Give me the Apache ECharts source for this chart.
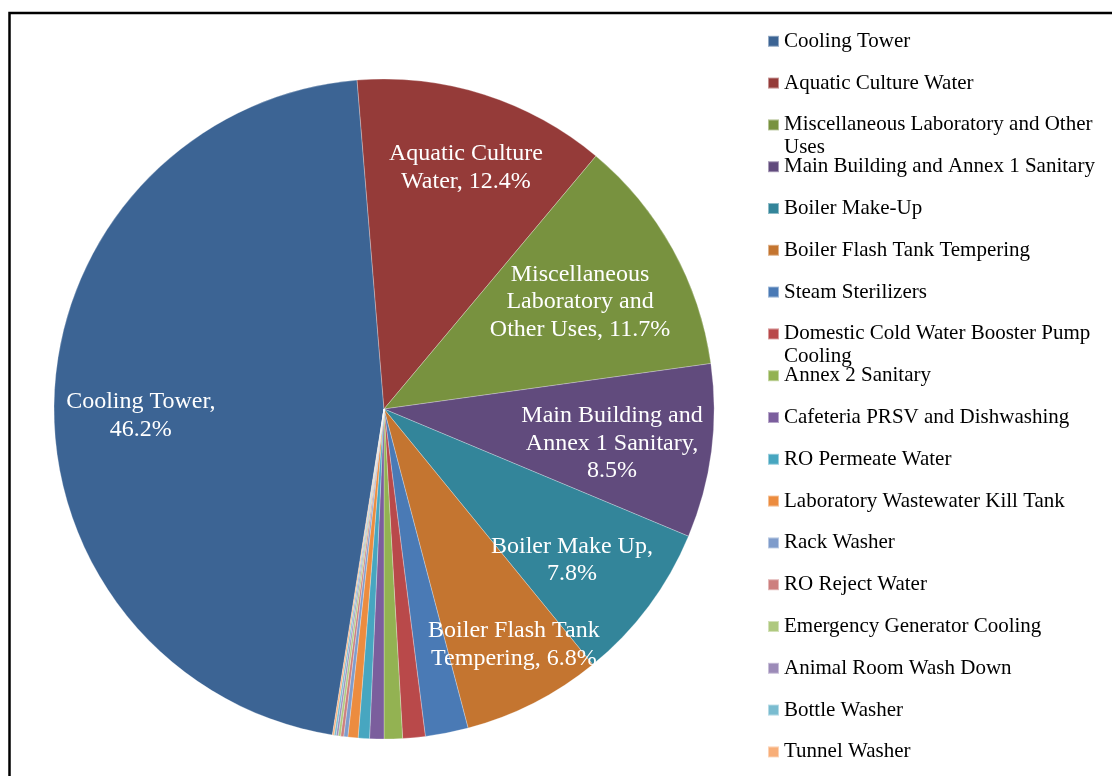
<!DOCTYPE html>
<html>
<head>
  <meta charset="utf-8">
  <title>Water use breakdown</title>
  <script src="https://cdn.jsdelivr.net/npm/echarts@6/dist/echarts.min.js"></script>
  <style>
    html, body { margin: 0; padding: 0; background: #fff; }
    #chart { width: 1112px; height: 776px; }
  </style>
</head>
<body>
  <div id="chart"></div>
  <script>
    // data (percent of total)
    const categories = [
      'Cooling Tower',
      'Aquatic Culture Water',
      'Miscellaneous Laboratory and Other Uses',
      'Main Building and Annex 1 Sanitary',
      'Boiler Make-Up',
      'Boiler Flash Tank Tempering',
      'Steam Sterilizers',
      'Domestic Cold Water Booster Pump Cooling',
      'Annex 2 Sanitary',
      'Cafeteria PRSV and Dishwashing',
      'RO Permeate Water',
      'Laboratory Wastewater Kill Tank',
      'Rack Washer',
      'RO Reject Water',
      'Emergency Generator Cooling',
      'Animal Room Wash Down',
      'Bottle Washer',
      'Tunnel Washer'
    ];
    const shares = [46.2, 12.4, 11.7, 8.5, 7.8, 6.8, 2.1, 1.1, 0.9, 0.7, 0.55, 0.5, 0.2, 0.15, 0.12, 0.1, 0.1, 0.08];
    const colors = [
      '#3c6494', '#953b39', '#78923f', '#614b7d', '#33859a', '#c47530',
      '#4a7ab5', '#b9494a', '#93b252', '#7b5e9d', '#47a6c0', '#ec8c3f',
      '#7f9ccb', '#cd7f7e', '#afc97f', '#9c8bb8', '#7abcd0', '#f8ae78'
    ];
    // slice labels (only the big slices carry one)
    const labelTexts = [
      'Cooling Tower,\n',
      'Aquatic Culture\nWater, ',
      'Miscellaneous\nLaboratory and\nOther Uses, ',
      'Main Building and\nAnnex 1 Sanitary,\n',
      'Boiler Make Up,\n',
      'Boiler Flash Tank\nTempering, '
    ];
    // legend entries that wrap onto a second line
    const legendTails = {
      'Miscellaneous Laboratory and Other Uses': 'Uses',
      'Domestic Cold Water Booster Pump Cooling': 'Cooling'
    };

    const pieCenter = [384, 409];
    const pieRadius = 330;
    // label placement: share of the radius, and a small turn (degrees) off the slice middle
    const labelDistance = [0.737, 0.777, 0.679, 0.698, 0.728, 0.812];
    const labelTurn = [-3.4, 1.0, 0, 0.8, 1.8, -2.0];

    const pieData = categories.map((name, i) => ({
      name: name,
      value: shares[i],
      itemStyle: { color: colors[i] },
      label: { show: i < labelTexts.length }
    }));

    const legendBase = {
      orient: 'vertical',
      left: 767,
      padding: 0,
      itemWidth: 11,
      itemHeight: 11,
      icon: 'rect',
      selectedMode: false,
      formatter: name => {
        const tail = legendTails[name];
        if (!tail) return name;
        return name.slice(0, name.length - tail.length - 1) + '\n{u|' + tail + '}';
      },
      textStyle: {
        fontFamily: 'Liberation Serif',
        fontSize: 21,
        color: '#000',
        lineHeight: 23,
        rich: {
          u: {
            fontFamily: 'Liberation Serif',
            fontSize: 21,
            color: '#000',
            height: 23,
            lineHeight: 0,
            verticalAlign: 'top'
          }
        }
      }
    };
    // one legend block per entry so wrapped entries keep Excel's even spacing
    const legends = categories.map((name, i) => Object.assign({}, legendBase, {
      top: 29.8 + i * 41.8,
      data: [name]
    }));

    const chart = echarts.init(document.getElementById('chart'));
    chart.setOption({
      animation: false,
      graphic: [{
        type: 'rect',
        shape: { x: 9.5, y: 13, width: 1300, height: 900 },
        style: { fill: 'none', stroke: '#000', lineWidth: 2.5 },
        silent: true
      }],
      legend: legends,
      series: [
        {
          name: 'Water Use',
          type: 'pie',
          center: pieCenter,
          radius: pieRadius,
          startAngle: 261,
          clockwise: true,
          avoidLabelOverlap: false,
          silent: true,
          data: pieData,
          itemStyle: { borderColor: 'rgba(255,255,255,0.45)', borderWidth: 0.6 },
          label: {
            position: 'inside',
            color: '#fff',
            fontFamily: 'Liberation Serif',
            fontSize: 24,
            lineHeight: 27.6,
            align: 'center',
            formatter: p => labelTexts[p.dataIndex] + p.value.toFixed(1) + '%'
          },
          labelLine: { show: false },
          labelLayout: p => {
            const f = labelDistance[p.dataIndex];
            if (f == null) return {};
            const r = p.labelRect;
            const cx = r.x + r.width / 2 - pieCenter[0];
            const cy = r.y + r.height / 2 - pieCenter[1];
            const a = Math.atan2(cx, -cy) + labelTurn[p.dataIndex] * Math.PI / 180;
            const d = f * pieRadius;
            return { dx: d * Math.sin(a) - cx, dy: -d * Math.cos(a) - cy + 1.5 };
          }
        }
      ]
    });
  </script>
</body>
</html>
